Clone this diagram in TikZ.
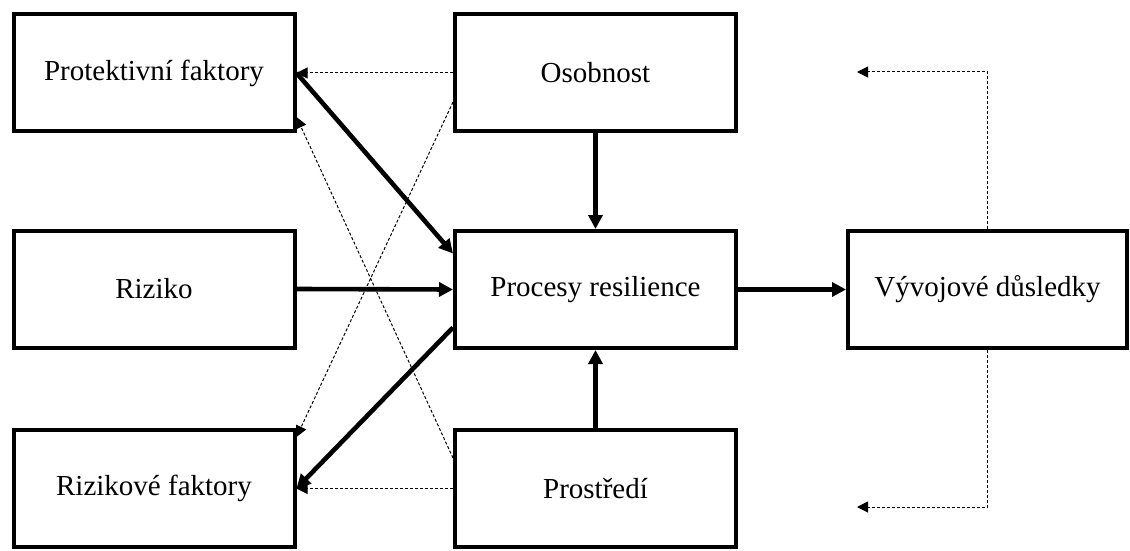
\documentclass[tikz,border=0pt]{standalone}
\usepackage{fontspec}
\setmainfont{Liberation Serif}
\usetikzlibrary{arrows.meta,calc}
\begin{document}
\begin{tikzpicture}[x=0.5pt,y=-0.5pt,
  box/.style={draw,line width=2pt,minimum width=140.5pt,minimum height=58.5pt,inner sep=0pt,font=\fontsize{14.5}{17}\selectfont},
  thickarrow/.style={line width=2.3pt,-{Triangle[length=7pt,width=7pt]}},
  dasharrow/.style={line width=0.5pt,dash pattern=on 1.5pt off 1pt,-{Triangle[length=5.5pt,width=5.5pt]}},
  dashline/.style={line width=0.5pt,dash pattern=on 1.5pt off 1pt}]
\useasboundingbox (0,0) rectangle (1130,551);
\node[box] (prot) at (154,73) {Protektivní faktory};
\node[box] (riz) at (154,289) {Riziko};
\node[box] (rizf) at (154,488.5) {Rizikové faktory};
\node[box] (osob) at (595.5,73) {Osobnost};
\node[box] (proc) at (595.5,289.5) {Procesy resilience};
\node[box] (prost) at (595.5,488.5) {Prostředí};
\node[box,minimum width=139.5pt] (vyv) at (987.5,289.5) {Vývojové důsledky};
\coordinate (tl) at (857,72);
\coordinate (bl) at (857,507);
% solid arrows
\draw[thickarrow] (osob.south) -- (proc.north);
\draw[thickarrow] (prost.north) -- (proc.south);
\draw[thickarrow] (proc.east) -- (vyv.west);
\draw[thickarrow] (riz.east) -- (proc.west);
\draw[thickarrow] (prot.east) -- ($(proc.west)+(0,-36)$);
\draw[thickarrow] ($(proc.west)+(0,38)$) -- (rizf.east);
% dashed
\draw[dasharrow] (osob.west) -- (prot.east);
\draw[dasharrow] (prost.west) -- (rizf.east);
\draw[dasharrow] ($(osob.west)+(0,29)$) -- ($(rizf.east)+(0,-51.5)$);
\draw[dasharrow] ($(prost.west)+(0,-30.5)$) -- ($(prot.east)+(0,44)$);
\draw[dasharrow] (vyv.north) |- (tl);
\draw[dasharrow] (vyv.south) |- (bl);
\end{tikzpicture}
\end{document}
